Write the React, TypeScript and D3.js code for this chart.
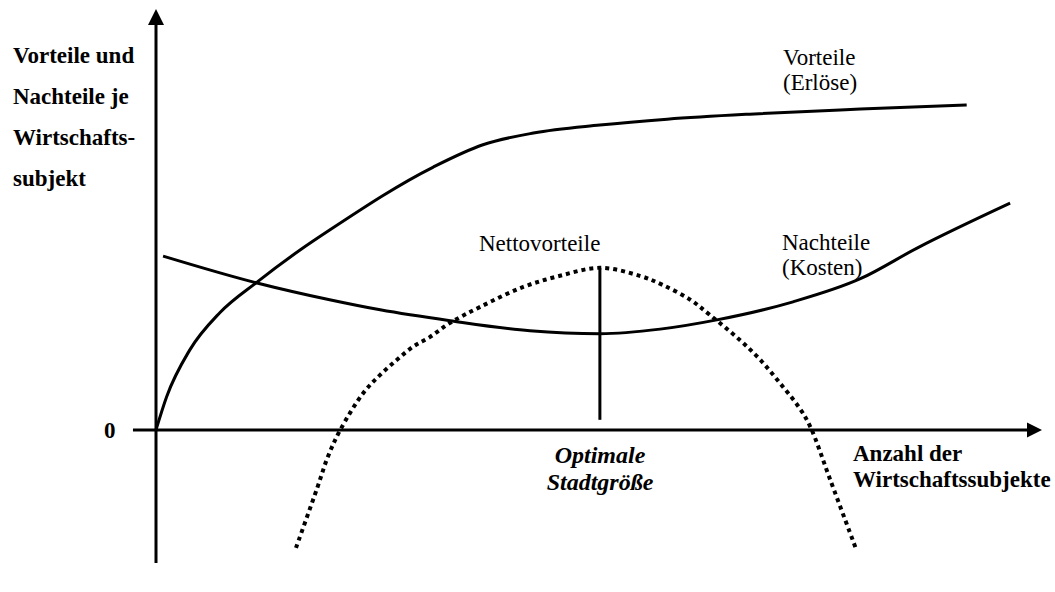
import React, { useRef, useEffect } from "react";
import * as d3 from "d3";

// curve points, in chart units (x: 0..10, y: 0 at the x axis)
const vorteile: [number, number][] = [
  [0, 0], [0.12, 0.79], [0.38, 1.9], [0.72, 2.79], [1.14, 3.52], [1.63, 4.29],
  [1.96, 4.76], [3.13, 6.26], [3.69, 6.79], [4.26, 7.07], [5.01, 7.26],
  [5.77, 7.4], [6.7, 7.52], [7.95, 7.64], [9.15, 7.74],
];

const nachteile: [number, number][] = [
  [0.08, 4.14], [1.14, 3.5], [1.96, 3.1], [2.53, 2.86], [3.32, 2.6],
  [4.22, 2.36], [5.01, 2.29], [5.69, 2.4], [6.33, 2.62], [7.19, 3.05],
  [7.95, 3.6], [8.59, 4.33], [9.64, 5.4],
];

const nettovorteile: [number, number][] = [
  [1.58, -2.81], [1.82, -1.38], [1.94, -0.64], [2.08, 0], [2.34, 0.88],
  [2.53, 1.31], [2.72, 1.67], [2.9, 1.98], [3.09, 2.21], [3.32, 2.55],
  [3.66, 2.93], [4.14, 3.4], [4.56, 3.67], [5.01, 3.86], [5.46, 3.67],
  [5.72, 3.45], [6.03, 3.1], [6.25, 2.74], [6.59, 2.14], [6.82, 1.67],
  [7.04, 1.12], [7.27, 0.5], [7.39, 0.05], [7.61, -1.19], [7.9, -2.83],
];

const optimum = { x: 5.01, top: 3.86, bottom: 0.24 };

const yAxisLabel = ["Vorteile und", "Nachteile je", "Wirtschafts-", "subjekt"];
const xAxisLabel = ["Anzahl der", "Wirtschaftssubjekte"];
const optimumLabel = ["Optimale", "Stadtgröße"];
const vorteileLabel = ["Vorteile", "(Erlöse)"];
const nachteileLabel = ["Nachteile", "(Kosten)"];

const FONT = "'Liberation Serif', 'Times New Roman', serif";

export default function App() {
  const ref = useRef<SVGSVGElement | null>(null);

  useEffect(() => {
    const svg = d3.select(ref.current);
    svg.selectAll("*").remove();

    const x = d3.scaleLinear().domain([0, 10]).range([156, 1042]);
    const y = d3.scaleLinear().domain([-3.17, 10]).range([563, 10]);

    const line = d3
      .line<[number, number]>()
      .x((d) => x(d[0]))
      .y((d) => y(d[1]))
      .curve(d3.curveMonotoneX);

    const dotted = d3
      .line<[number, number]>()
      .x((d) => x(d[0]))
      .y((d) => y(d[1]))
      .curve(d3.curveCatmullRom.alpha(0.5));

    // axes
    svg
      .append("line")
      .attr("x1", x(0)).attr("x2", x(0))
      .attr("y1", y(-3.17)).attr("y2", y(10) + 12)
      .attr("stroke", "#000").attr("stroke-width", 3);
    svg
      .append("line")
      .attr("x1", x(-0.26)).attr("x2", x(10) - 12)
      .attr("y1", y(0)).attr("y2", y(0))
      .attr("stroke", "#000").attr("stroke-width", 3);

    // arrow heads
    svg
      .append("path")
      .attr("d", `M${x(0)},${y(10) - 1} L${x(0) - 8},${y(10) + 15} L${x(0) + 8},${y(10) + 15} Z`)
      .attr("fill", "#000");
    svg
      .append("path")
      .attr("d", `M${x(10)},${y(0)} L${x(10) - 15},${y(0) - 7.5} L${x(10) - 15},${y(0) + 7.5} Z`)
      .attr("fill", "#000");

    // curves
    svg.append("path").attr("d", line(vorteile))
      .attr("fill", "none").attr("stroke", "#000").attr("stroke-width", 3);
    svg.append("path").attr("d", line(nachteile))
      .attr("fill", "none").attr("stroke", "#000").attr("stroke-width", 3);
    svg.append("path").attr("d", dotted(nettovorteile))
      .attr("fill", "none").attr("stroke", "#000").attr("stroke-width", 4)
      .attr("stroke-dasharray", "4 4");

    // optimum marker
    svg
      .append("line")
      .attr("x1", x(optimum.x)).attr("x2", x(optimum.x))
      .attr("y1", y(optimum.top)).attr("y2", y(optimum.bottom))
      .attr("stroke", "#000").attr("stroke-width", 3);

    const text = (lines: string[], px: number, py: number, dy: number,
                  opts: { weight?: string; style?: string; anchor?: string; size?: number } = {}) => {
      const t = svg
        .append("text")
        .attr("font-family", FONT)
        .attr("font-size", opts.size || 23)
        .attr("font-weight", opts.weight || "normal")
        .attr("font-style", opts.style || "normal")
        .attr("text-anchor", opts.anchor || "start")
        .attr("fill", "#000");
      lines.forEach((s, i) => {
        t.append("tspan").attr("x", px).attr("y", py + i * dy).text(s);
      });
    };

    text(yAxisLabel, 13, 63, 41, { weight: "bold" });
    text(["0"], 104, 438, 0, { weight: "bold" });
    text(xAxisLabel, 853, 461, 26, { weight: "bold" });
    text(optimumLabel, 600, 463, 27, { weight: "bold", style: "italic", anchor: "middle", size: 24 });
    text(vorteileLabel, 783, 65, 25);
    text(["Nettovorteile"], 479, 251, 0);
    text(nachteileLabel, 782, 250, 25);
  }, []);

  return (
    <svg
      ref={ref}
      width={1055}
      height={592}
      style={{ position: "absolute", left: 0, top: 0, background: "#fff" }}
    />
  );
}
